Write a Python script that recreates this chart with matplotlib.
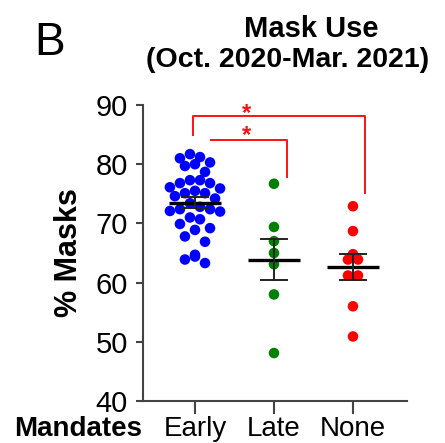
import numpy as np
import matplotlib
matplotlib.use("Agg")
import matplotlib.pyplot as plt

plt.rcParams["font.family"] = ["Liberation Sans", "DejaVu Sans"]

# --- data ----------------------------------------------------------------
groups = ["Early", "Late", "None"]
colors = ["#0000FF", "#008000", "#FF0000"]
early = [81.7, 81.2, 81.0, 80.0, 80.3, 79.7, 78.7, 76.8, 77.3, 76.8, 77.3,
         76.1, 75.9, 75.5, 74.6, 75.1, 75.1, 74.2, 73.4, 72.4, 72.0, 72.4,
         72.1, 72.8, 71.0, 70.7, 68.9, 69.2, 69.9, 67.8, 66.9, 64.7, 63.9,
         64.4, 63.3]
late = [76.7, 69.4, 67.0, 65.0, 63.1, 58.0, 48.1]
none = [72.9, 68.7, 64.8, 63.9, 63.9, 61.2, 61.2, 56.0, 50.9]
yticks = [40, 50, 60, 70, 80, 90]

# significance brackets: (x_left, x_right, y_bar, y_left_end, y_right_end, y_star)
brackets = [(-0.03, 2.15, 88.1, 84.9, 75.1, 88.5),
            (0.20, 1.16, 84.1, 84.1, 77.8, 84.8)]

MS = 7.6            # marker diameter, points
MEAN_HW = 0.33      # half width of mean line (data x)
CAP_HW = 0.17       # half width of SEM caps

fig = plt.figure(figsize=(4.45, 4.43), dpi=100)
ax = fig.add_axes([143 / 445, 42 / 443, 264 / 445, 296 / 443])
ax.set_xlim(-0.658, 2.684)
ax.set_ylim(40, 90)


def swarm(vals, xc):
    """GraphPad-like spreading: bin values by marker height, spread each bin
    alternately around the centre."""
    fig.canvas.draw()
    p0 = ax.transData.transform((0, 0))
    p1 = ax.transData.transform((1, 1))
    px_x, px_y = p1[0] - p0[0], p1[1] - p0[1]
    d_px = MS * fig.dpi / 72.0
    dy = 1.25 * d_px / px_y
    dx = 0.95 * d_px / px_x
    vals = np.asarray(vals, float)
    xs = np.full(vals.size, float(xc))
    bins = np.floor((vals - 40) / dy).astype(int)
    for b in np.unique(bins):
        idx = np.where(bins == b)[0]
        idx = idx[np.argsort(-vals[idx])]
        n = idx.size
        if n % 2:
            slots = [0] + [s for k in range(1, n) for s in (-k, k)]
        else:
            slots = [s for k in range(n) for s in (-(k + 0.5), k + 0.5)]
        xs[idx] = xc + np.array(slots[:n]) * dx
    return xs


for i, (vals, c) in enumerate(zip([early, late, none], colors)):
    xs = swarm(vals, i)
    ax.scatter(xs, vals, s=MS ** 2, color=c, edgecolors="none", zorder=3)
    m = np.mean(vals)
    sem = np.std(vals, ddof=1) / np.sqrt(len(vals))
    ax.plot([i - MEAN_HW, i + MEAN_HW], [m, m], color="black", lw=2.4,
            zorder=4, solid_capstyle="butt")
    ax.plot([i, i], [m - sem, m + sem], color="#222222", lw=1.4, zorder=4)
    for yy in (m - sem, m + sem):
        ax.plot([i - CAP_HW, i + CAP_HW], [yy, yy], color="#222222", lw=1.4,
                zorder=4)

for xl, xr, yb, yl, yr, ys in brackets:
    ax.plot([xl, xl, xr, xr], [yl, yb, yb, yr], color="#FF1010", lw=1.4,
            clip_on=False, zorder=2)
    ax.text(0.65, ys, "*", color="#FF1010", fontsize=17, fontweight="bold",
            ha="center", va="center", clip_on=False)

for s in ("top", "right"):
    ax.spines[s].set_visible(False)
for s in ("left", "bottom"):
    ax.spines[s].set_color("#444444")
    ax.spines[s].set_linewidth(1.5)

ax.set_yticks(yticks)
ax.set_xticks(range(len(groups)))
ax.set_xticklabels(groups)
ax.tick_params(axis="y", length=5, width=1.5, color="#444444", labelsize=21,
               pad=6)
ax.tick_params(axis="x", length=9, width=1.5, color="#444444", labelsize=20,
               pad=1.5)
ax.set_ylabel("% Masks", fontsize=22, fontweight="bold", labelpad=8)

fig.text(142 / 445, 1 - 436 / 443, "Mandates", fontsize=20, fontweight="bold",
         ha="right", va="baseline")
fig.text(311 / 445, 1 - 37 / 443, "Mask Use", fontsize=21, fontweight="bold",
         ha="center", va="baseline")
fig.text(288 / 445, 1 - 67 / 443, "(Oct. 2020-Mar. 2021)", fontsize=20.5,
         fontweight="bold", ha="center", va="baseline")
fig.text(50 / 445, 1 - 55 / 443, "B", fontsize=33, ha="center",
         va="baseline")

fig.savefig("out.png", dpi=100)
